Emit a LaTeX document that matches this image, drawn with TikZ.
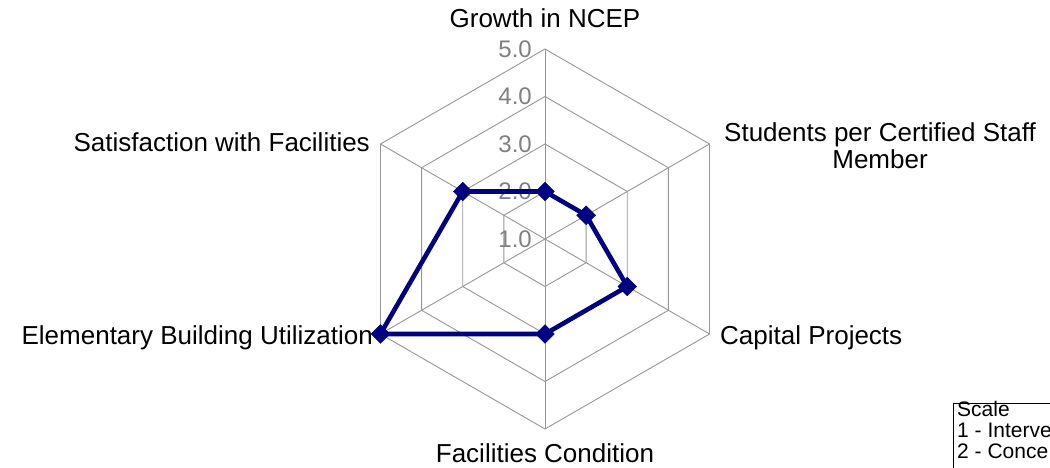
\documentclass[tikz,border=0pt]{standalone}
\usepackage{fontspec}
\setmainfont{Liberation Sans}
\usetikzlibrary{shapes.geometric}
\definecolor{navyline}{RGB}{0,0,128}
\definecolor{gridgray}{RGB}{150,150,150}
\definecolor{labelgray}{RGB}{128,128,128}

\begin{document}
\begin{tikzpicture}[x=1pt, y=1pt,
		grid/.style={draw=gridgray, line width=0.9pt},
		axislabel/.style={font=\fontsize{26}{27}\selectfont, inner sep=0pt},
		scalelabel/.style={font=\fontsize{24}{28}\selectfont, text=labelgray, anchor=east, inner sep=0pt},
		datapoint/.style={diamond, draw=navyline, fill=navyline, inner sep=0pt, minimum size=19pt},
		series/.style={draw=navyline, line width=4.6pt, line join=round}]
	\useasboundingbox (-545, -229) rectangle (505, 239);

	% hexagonal rings and spokes
	\foreach \r in {47.5, 95, 142.5, 190}
		\draw[grid] (90:\r) -- (30:\r) -- (-30:\r) -- (-90:\r) -- (210:\r) -- (150:\r) -- cycle;
	\foreach \a in {90, 30, -30, -90, 210, 150}
		\draw[grid] (0, 0) -- (\a:190);

	% scale values
	\node[scalelabel] (scale1) at (-13, 0.0) {1.0};
	\node[scalelabel] (scale2) at (-13, 47.5) {2.0};
	\node[scalelabel] (scale3) at (-13, 95.0) {3.0};
	\node[scalelabel] (scale4) at (-13, 142.5) {4.0};
	\node[scalelabel] (scale5) at (-13, 190.0) {5.0};

	% axis titles
	\node[axislabel, anchor=base] (axis0) at (0, 211) {Growth in NCEP};
	\node[axislabel, anchor=north west, align=center] (axis1) at (179, 117) {Students per Certified Staff\\Member};
	\node[axislabel, anchor=base west] (axis2) at (175, -106) {Capital Projects};
	\node[axislabel, anchor=base] (axis3) at (0, -224) {Facilities Condition};
	\node[axislabel, anchor=base east] (axis4) at (-172, -106) {Elementary Building Utilization};
	\node[axislabel, anchor=base east] (axis5) at (-175, 87) {Satisfaction with Facilities};

	% data
	\coordinate (node0) at (90:47.5);
	\coordinate (node1) at (30:47.5);
	\coordinate (node2) at (-30:95);
	\coordinate (node3) at (-90:95);
	\coordinate (node4) at (210:190);
	\coordinate (node5) at (150:95);
	\draw[series] (node0) -- (node1) -- (node2) -- (node3) -- (node4) -- (node5) -- cycle;
	\foreach \n in {node0, node1, node2, node3, node4, node5}
		\node[datapoint] at (\n) {};

	% legend
	\begin{scope}
		\clip (-545, -229) rectangle (505, 239);
		\draw[line width=0.9pt] (408, -240) -- (408, -164) -- (520, -164) -- (520, -240) -- cycle;
		\node[anchor=base west, inner sep=0pt, font=\fontsize{21}{21}\selectfont] (legend0) at (412, -178) {Scale};
		\node[anchor=base west, inner sep=0pt, font=\fontsize{21}{21}\selectfont] (legend1) at (412, -199) {1 - Interve};
		\node[anchor=base west, inner sep=0pt, font=\fontsize{21}{21}\selectfont] (legend2) at (412, -220) {2 - Conce};
	\end{scope}
\end{tikzpicture}
\end{document}
